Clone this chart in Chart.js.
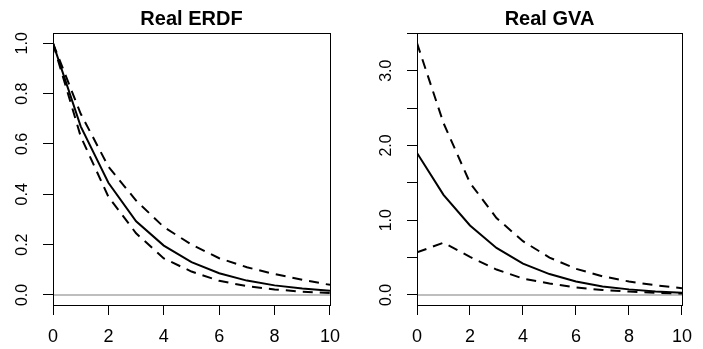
<!DOCTYPE html>
<html>
<head>
<meta charset="utf-8">
<script src="https://cdn.jsdelivr.net/npm/chart.js@4"></script>
<style>
  body { margin: 0; background: #fff; }
  .panel { position: absolute; top: 0; height: 349px; }
</style>
</head>
<body>
<div class="panel" style="left:0;width:351px"><canvas id="chartErdf"></canvas></div>
<div class="panel" style="left:351px;width:352px"><canvas id="chartGva"></canvas></div>
<script>
// horizons on the x axis
var horizons = [0, 1, 2, 3, 4, 5, 6, 7, 8, 9, 10];

// Real ERDF : response and bands
var erdfMid   = [1.0, 0.67, 0.446, 0.293, 0.196, 0.13, 0.086, 0.057, 0.038, 0.026, 0.017];
var erdfUpper = [1.0, 0.72, 0.51, 0.375, 0.27, 0.2, 0.146, 0.11, 0.083, 0.06, 0.04];
var erdfLower = [1.0, 0.63, 0.39, 0.245, 0.145, 0.093, 0.056, 0.035, 0.022, 0.013, 0.008];

// Real GVA : response and bands
var gvaMid   = [1.9, 1.34, 0.93, 0.63, 0.42, 0.28, 0.18, 0.115, 0.075, 0.048, 0.03];
var gvaUpper = [3.37, 2.3, 1.5, 1.03, 0.72, 0.5, 0.35, 0.25, 0.18, 0.13, 0.09];
var gvaLower = [0.57, 0.70, 0.51, 0.34, 0.22, 0.155, 0.10, 0.067, 0.045, 0.03, 0.02];

var zeroLine = [0, 0];
var zeroX = [0, 10];

var FONT = "'Liberation Sans', Arial, Helvetica, sans-serif";

function toPoints(xs, ys) {
    var pts = [];
    for (var i = 0; i < ys.length; i++) {
        pts.push({x: xs[i], y: ys[i]});
    }
    return pts;
}

// title, box and rotated y labels in the R style
var rStyle = {
    id: 'rStyle',
    afterDraw: function (chart, args, opts) {
        var ctx = chart.ctx;
        var a = chart.chartArea;
        ctx.save();
        ctx.strokeStyle = '#000';
        ctx.lineWidth = 1;
        ctx.strokeRect(Math.round(a.left) + 0.5, Math.round(a.top) + 0.5,
            Math.round(a.right - a.left), Math.round(a.bottom - a.top));

        ctx.fillStyle = '#000';
        ctx.font = 'bold 20px ' + FONT;
        ctx.textAlign = 'center';
        ctx.textBaseline = 'alphabetic';
        ctx.fillText(opts.title, (a.left + a.right) / 2, 25);

        var yScale = chart.scales.y;
        ctx.font = '16px ' + FONT;
        yScale.ticks.forEach(function (t) {
            if (Math.abs(t.value / opts.labelStep - Math.round(t.value / opts.labelStep)) > 1e-6) return;
            var py = yScale.getPixelForValue(t.value);
            ctx.save();
            ctx.translate(a.left - 26, py);
            ctx.rotate(-Math.PI / 2);
            ctx.fillText(t.value.toFixed(1), 0, 0);
            ctx.restore();
        });
        ctx.restore();
    }
};

function makePanel(id, title, mid, upper, lower, yMin, yMax, yStep, labelStep, yWidth, padRight) {
    var ctx = document.getElementById(id).getContext('2d');
    var dash = [10, 7];
    return new Chart(ctx, {
        type: 'line',
        data: {
            datasets: [{
                data: toPoints(horizons, mid),
                borderColor: '#000',
                borderWidth: 2
            }, {
                data: toPoints(horizons, upper),
                borderColor: '#000',
                borderWidth: 2,
                borderDash: dash
            }, {
                data: toPoints(horizons, lower),
                borderColor: '#000',
                borderWidth: 2,
                borderDash: dash
            }, {
                data: toPoints(zeroX, zeroLine),
                borderColor: '#bebebe',
                borderWidth: 2
            }]
        },
        options: {
            responsive: true,
            maintainAspectRatio: false,
            animation: false,
            events: [],
            elements: {
                point: {radius: 0},
                line: {tension: 0, fill: false}
            },
            layout: {
                autoPadding: false,
                padding: {top: 33, right: padRight, left: 0, bottom: 0}
            },
            plugins: {
                legend: {display: false},
                tooltip: {enabled: false},
                rStyle: {title: title, labelStep: labelStep}
            },
            scales: {
                x: {
                    type: 'linear',
                    min: 0,
                    max: 10,
                    ticks: {
                        stepSize: 2,
                        color: '#000',
                        padding: 11,
                        font: {family: FONT, size: 18},
                        maxRotation: 0
                    },
                    grid: {drawOnChartArea: false, drawTicks: true, tickLength: 10, color: '#000'},
                    border: {display: false},
                    afterFit: function (s) { s.height = 44; }
                },
                y: {
                    type: 'linear',
                    min: yMin,
                    max: yMax,
                    ticks: {
                        stepSize: yStep,
                        includeBounds: false,
                        display: false
                    },
                    grid: {drawOnChartArea: false, drawTicks: true, tickLength: 10, color: '#000'},
                    border: {display: false},
                    afterFit: function (s) { s.width = yWidth; }
                }
            }
        },
        plugins: [rStyle]
    });
}

makePanel('chartErdf', 'Real ERDF', erdfMid, erdfUpper, erdfLower, -0.04, 1.041, 0.2, 0.2, 53, 20);
makePanel('chartGva', 'Real GVA', gvaMid, gvaUpper, gvaLower, -0.134, 3.505, 0.5, 1.0, 66, 9);
</script>
</body>
</html>
